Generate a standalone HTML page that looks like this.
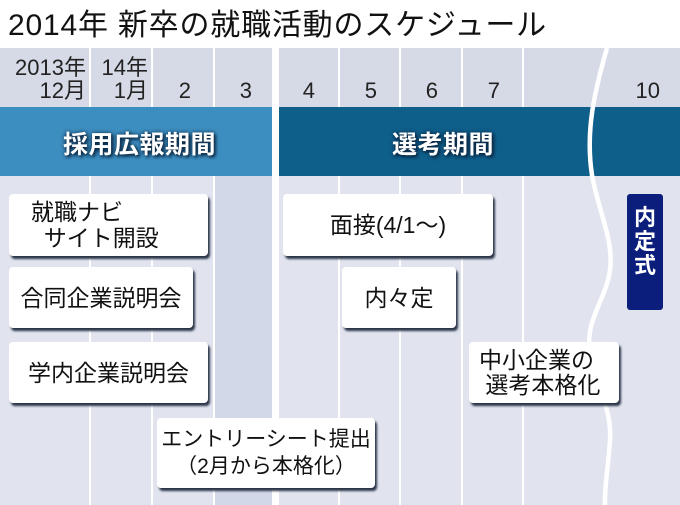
<!DOCTYPE html>
<html><head><meta charset="utf-8"><style>
*{margin:0;padding:0;box-sizing:border-box}
body{width:680px;height:505px;background:#fff;position:relative;overflow:hidden;font-family:"Liberation Sans","Noto Sans CJK JP",sans-serif;color:#111}
.a{position:absolute}
.t{left:8px;top:0px;font-size:30px;white-space:nowrap;letter-spacing:0.8px}
.col{position:absolute;top:48px;height:457px;background:#e1e4ef}
.hd{position:absolute;top:48px;height:59px;background:#d6dae6}
.lab{position:absolute;font-size:22px;text-align:right;line-height:23px;color:#222}
.band{position:absolute;top:107px;height:69px}
.bt{position:absolute;color:#fff;font-weight:bold;font-size:25px;letter-spacing:0.5px;text-shadow:2px 2px 3px #0a2540,0 0 4px #0a2540}
.box{position:absolute;background:#fff;border-radius:4px;box-shadow:2px 3px 2px #2a3548;font-size:23px;line-height:26px;color:#111;display:flex;align-items:center;justify-content:center;text-align:center;white-space:nowrap}
</style></head><body>
<div class="a t">2014年 新卒の就職活動のスケジュール</div>
<div class="col" style="left:0;width:89px"></div>
<div class="col" style="left:91px;width:60px"></div>
<div class="col" style="left:153px;width:60px"></div>
<div class="col" style="left:215px;width:57px;background:#d3d8e8"></div>
<div class="col" style="left:279px;width:59px"></div>
<div class="col" style="left:340px;width:59px"></div>
<div class="col" style="left:401px;width:60px"></div>
<div class="col" style="left:463px;width:59px"></div>
<div class="col" style="left:524px;width:156px"></div>
<div class="hd" style="left:0;width:89px"></div>
<div class="hd" style="left:91px;width:60px"></div>
<div class="hd" style="left:153px;width:60px"></div>
<div class="hd" style="left:215px;width:57px"></div>
<div class="hd" style="left:279px;width:59px"></div>
<div class="hd" style="left:340px;width:59px"></div>
<div class="hd" style="left:401px;width:60px"></div>
<div class="hd" style="left:463px;width:59px"></div>
<div class="hd" style="left:524px;width:156px"></div>
<div class="lab" style="left:0;width:86px;top:56px">2013年<br>12月</div>
<div class="lab" style="left:91px;width:57px;top:56px">14年<br>1月</div>
<div class="lab" style="left:153px;width:38px;top:79px">2</div>
<div class="lab" style="left:215px;width:37px;top:79px">3</div>
<div class="lab" style="left:279px;width:36px;top:79px">4</div>
<div class="lab" style="left:340px;width:37px;top:79px">5</div>
<div class="lab" style="left:401px;width:37px;top:79px">6</div>
<div class="lab" style="left:463px;width:37px;top:79px">7</div>
<div class="lab" style="left:600px;width:60px;top:79px">10</div>
<div class="band" style="left:0;width:272px;background:#3d8ec0"></div>
<div class="band" style="left:279px;width:401px;background:#0f5f8b"></div>
<div class="bt" style="left:63px;top:125px">採用広報期間</div>
<div class="bt" style="left:392px;top:125px">選考期間</div>
<svg class="a" style="left:0;top:0" width="680" height="505"><path d="M607 48 C595 90,585 130,592 175 C598 210,614 240,610 270 C606 300,585 320,590 350 C594 385,612 405,610 440 C608 470,604 490,605 505" stroke="#fff" stroke-width="4.5" fill="none"/></svg>
<div class="box" style="left:9px;top:194px;width:199px;height:62px;line-height:26px;justify-content:flex-start;text-align:left;padding-left:22px">就職ナビ<br>&nbsp;&nbsp;サイト開設</div>
<div class="box" style="left:9px;top:267px;width:184px;height:61px">合同企業説明会</div>
<div class="box" style="left:9px;top:342px;width:199px;height:61px">学内企業説明会</div>
<div class="box" style="left:157px;top:418px;width:218px;height:70px;line-height:27px;font-size:21px">エントリーシート提出<br>（2月から本格化）</div>
<div class="box" style="left:283px;top:194px;width:210px;height:62px">面接(4/1～)</div>
<div class="box" style="left:342px;top:267px;width:114px;height:61px">内々定</div>
<div class="box" style="left:469px;top:342px;width:150px;height:61px;line-height:25px;justify-content:flex-start;text-align:left;padding-left:10px">中小企業の<br>&nbsp;選考本格化</div>
<div class="a" style="left:627px;top:194px;width:36px;height:116px;background:#0c1e7c;border-radius:3px;color:#fff;font-weight:bold;font-size:22px;line-height:24px;text-align:center;padding-top:12px">内<br>定<br>式</div>
</body></html>
